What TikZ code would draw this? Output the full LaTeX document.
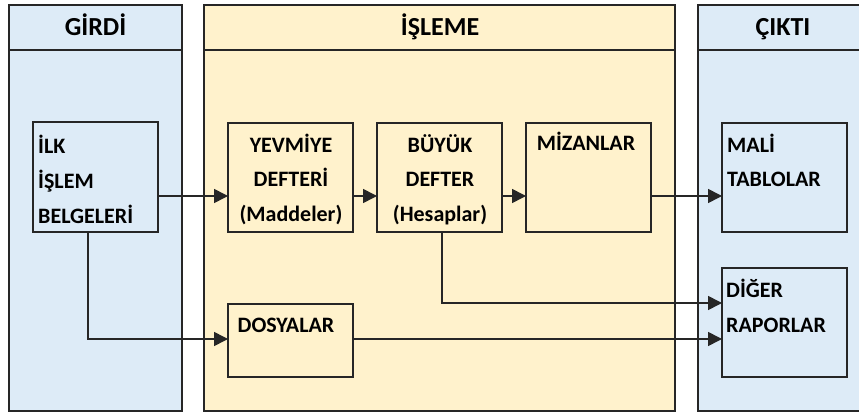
\documentclass[tikz,border=0pt]{standalone}
\usepackage{fontspec}
\setmainfont{Carlito}
\usetikzlibrary{arrows.meta}
\definecolor{pblue}{HTML}{DDEBF7}
\definecolor{pyellow}{HTML}{FFF2CC}
\definecolor{lineclr}{HTML}{262626}
\tikzset{
  panel/.style={draw=lineclr, line width=1.6pt, anchor=north west, inner sep=0pt, outer sep=0pt},
  box/.style={draw=lineclr, line width=1.6pt, anchor=north west, inner sep=0pt, outer sep=0pt, minimum width=125pt},
  hdr/.style={font=\fontsize{26}{30}\selectfont\bfseries, inner sep=0pt, anchor=base},
  txt/.style={font=\fontsize{22}{35}\selectfont\bfseries, inner sep=0pt},
  conn/.style={draw=lineclr, line width=1.6pt, -{Triangle[length=14pt,width=14pt]}},
}
\begin{document}
\begin{tikzpicture}[x=1pt,y=-1pt]
\useasboundingbox (0,0) rectangle (859,414);
\clip (0,0) rectangle (859,414);
% panels
\node[panel, fill=pblue, minimum width=173pt, minimum height=406pt] (girdi) at (9,5) {};
\node[panel, fill=pyellow, minimum width=471pt, minimum height=406pt] (isleme) at (204,5) {};
\node[panel, fill=pblue, minimum width=200pt, minimum height=406pt] (cikti) at (698,5) {};
\coordinate (hl) at (0,50);
\draw[draw=lineclr, line width=1.6pt] (girdi.west |- hl) -- (girdi.east |- hl);
\draw[draw=lineclr, line width=1.6pt] (isleme.west |- hl) -- (isleme.east |- hl);
\draw[draw=lineclr, line width=1.6pt] (cikti.west |- hl) -- (cikti.east |- hl);
\node[hdr] (hG) at (95.5,36) {GİRDİ};
\node[hdr] (hI) at (440,36) {İŞLEME};
\node[hdr] (hC) at (783,36) {ÇIKTI};
% boxes
\node[box, minimum height=110pt] (ilk) at (33,122) {};
\node[box, minimum height=109pt] (yev) at (228,123) {};
\node[box, minimum height=109pt] (buy) at (377,123) {};
\node[box, minimum height=109pt] (miz) at (526,123) {};
\node[box, minimum height=109pt] (mal) at (722,123) {};
\node[box, minimum height=73pt] (dos) at (228,304) {};
\node[box, minimum height=109pt] (dig) at (722,268) {};
% texts (base anchor = baseline of last line)
\node[txt, anchor=base west, align=left] (ilkT) at (38,223) {İLK\\İŞLEM\\BELGELERİ};
\node[txt, anchor=base, align=center] (yevT) at (291,222) {YEVMİYE\\DEFTERİ\\(Maddeler)};
\node[txt, anchor=base, align=center] (buyT) at (440,222) {BÜYÜK\\DEFTER\\(Hesaplar)};
\node[txt, anchor=base] (mizT) at (586,151) {MİZANLAR};
\node[txt, anchor=base west, align=left] (malT) at (727,187) {MALİ\\TABLOLAR};
\node[txt, anchor=base] (dosT) at (286,332) {DOSYALAR};
\node[txt, anchor=base west, align=left] (digT) at (726,332) {DİĞER\\RAPORLAR};
% connectors
\coordinate (ya) at (0,196);
\coordinate (xa) at (88,0);
\coordinate (xb) at (442,0);
\coordinate (yb) at (0,303);
\coordinate (yc) at (0,339);
\draw[conn] (ilk.east |- ya) -- (yev.west |- ya);
\draw[conn] (yev.east |- ya) -- (buy.west |- ya);
\draw[conn] (buy.east |- ya) -- (miz.west |- ya);
\draw[conn] (miz.east |- ya) -- (mal.west |- ya);
\draw[conn] (ilk.south -| xa) |- (dos.west |- yc);
\draw[conn] (buy.south -| xb) |- (dig.west |- yb);
\draw[conn] (dos.east |- yc) -- (dig.west |- yc);
\end{tikzpicture}
\end{document}
